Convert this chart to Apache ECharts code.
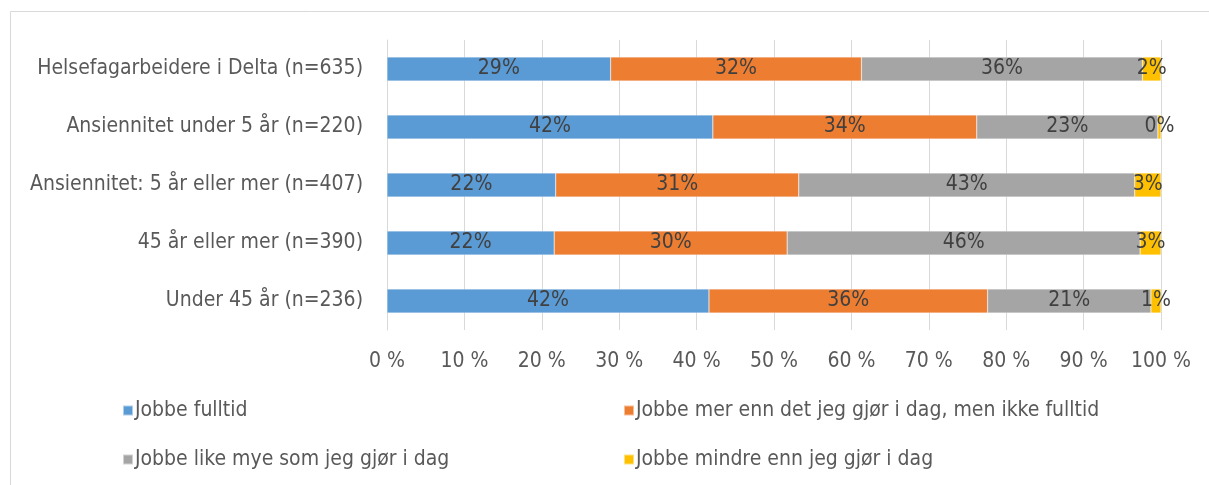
<!DOCTYPE html>
<html>
<head>
<meta charset="utf-8">
<script src="https://cdn.jsdelivr.net/npm/echarts@6/dist/echarts.min.js"></script>
<style>
  html, body { margin: 0; padding: 0; background: #fff; }
  #chart { width: 1209px; height: 485px; }
</style>
</head>
<body>
<div id="chart"></div>
<script>
// kategorier, ovenfra og ned
var categories = [
    'Helsefagarbeidere i Delta (n=635)',
    'Ansiennitet under 5 år (n=220)',
    'Ansiennitet: 5 år eller mer (n=407)',
    '45 år eller mer (n=390)',
    'Under 45 år (n=236)'
];
var seriesNames = [
    'Jobbe fulltid',
    'Jobbe mer enn det jeg gjør i dag, men ikke fulltid',
    'Jobbe like mye som jeg gjør i dag',
    'Jobbe mindre enn jeg gjør i dag'
];
var fulltid = [28.9, 42.1, 21.8, 21.6, 41.6];
var merEnn = [32.4, 34.1, 31.4, 30.1, 36.0];
var likeMye = [36.3, 23.4, 43.4, 45.6, 21.1];
var mindre = [2.4, 0.4, 3.4, 2.7, 1.3];
var tickLabels = ['0 %', '10 %', '20 %', '30 %', '40 %', '50 %', '60 %', '70 %', '80 %', '90 %', '100 %'];

var colors = ['#5b9bd5', '#ed7d31', '#a5a5a5', '#ffc000'];
var font = '"Liberation Sans Narrow", "DejaVu Sans Condensed", sans-serif';

var myChart = echarts.init(document.getElementById('chart'));

function makeSeries(name, data, color) {
    return {
        name: name,
        type: 'bar',
        stack: 'total',
        barWidth: 24,
        data: data,
        itemStyle: { color: color, borderColor: 'rgba(255,255,255,0.5)', borderWidth: 0.5 },
        label: {
            show: true,
            position: 'inside',
            color: '#404040',
            fontFamily: font,
            fontSize: 21,
            formatter: function (p) { return Math.round(p.value) + '%'; }
        }
    };
}

function legendAt(name, left, top) {
    return {
        data: [name],
        left: left,
        top: top,
        icon: 'rect',
        itemWidth: 10,
        itemHeight: 10,
        itemGap: 0,
        padding: 0,
        textStyle: { color: '#595959', fontFamily: font, fontSize: 21, padding: [0, 0, 0, -3] }
    };
}

var option = {
    animation: false,
    color: colors,
    graphic: [{
        type: 'rect',
        shape: { x: 10.5, y: 11.5, width: 1300, height: 600 },
        style: { fill: 'none', stroke: '#d9d9d9', lineWidth: 1 },
        silent: true
    }],
    legend: [
        legendAt(seriesNames[0], 122, 400),
        legendAt(seriesNames[1], 623, 400),
        legendAt(seriesNames[2], 122, 449),
        legendAt(seriesNames[3], 623, 449)
    ],
    grid: { left: 387, right: 48, top: 40, height: 290 },
    xAxis: {
        type: 'value',
        min: 0,
        max: 100,
        interval: 10,
        axisLine: { show: false },
        axisTick: { show: false },
        splitLine: { lineStyle: { color: '#d9d9d9', width: 1 } },
        axisLabel: {
            color: '#595959',
            fontFamily: font,
            fontSize: 21,
            margin: 21,
            formatter: function (v) { return tickLabels[Math.round(v / 10)]; }
        }
    },
    yAxis: {
        type: 'category',
        inverse: true,
        data: categories,
        axisLine: { lineStyle: { color: '#d9d9d9' } },
        axisTick: { show: false },
        axisLabel: { color: '#595959', fontFamily: font, fontSize: 21, margin: 24 }
    },
    series: [
        makeSeries(seriesNames[0], fulltid, colors[0]),
        makeSeries(seriesNames[1], merEnn, colors[1]),
        makeSeries(seriesNames[2], likeMye, colors[2]),
        makeSeries(seriesNames[3], mindre, colors[3])
    ]
};
if (option && typeof option === "object") {
    myChart.setOption(option, true);
}
</script>
</body>
</html>
